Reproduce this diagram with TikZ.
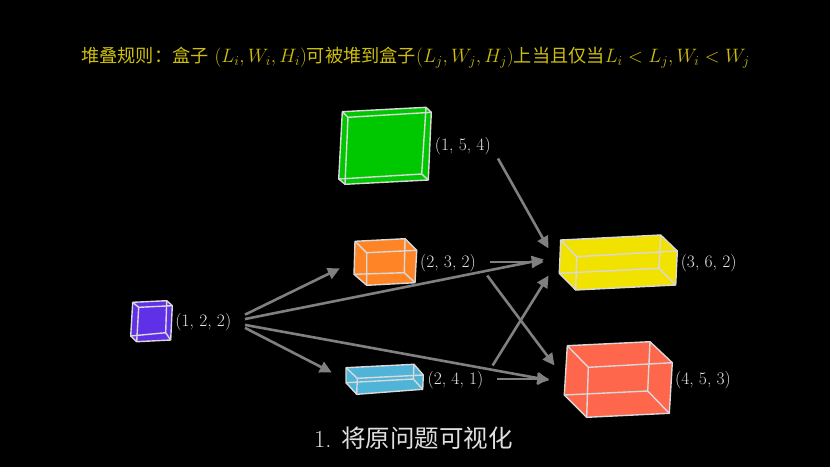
\RequirePackage{fix-cm}
\documentclass[tikz,border=0pt]{standalone}
\usepackage{fontspec}
\newfontfamily\cjk{Noto Sans CJK SC}
\usetikzlibrary{arrows.meta}

\definecolor{ruleyellow}{HTML}{CDBE0E}
\definecolor{boxgreen}{HTML}{00C800}
\definecolor{boxpurple}{HTML}{6030E8}
\definecolor{boxorange}{HTML}{FF8426}
\definecolor{boxcyan}{HTML}{4FB4D8}
\definecolor{boxyellow}{HTML}{F2E200}
\definecolor{boxred}{HTML}{FF674D}

\tikzset{
  lab/.style={text=white!90!black,inner sep=0pt,minimum width=83pt,minimum height=26.6pt,
    text height=14pt,text depth=3pt,font=\fontsize{17.5}{20}\selectfont},
  port/.style={inner sep=0pt,minimum height=26.6pt},
  edge/.style={draw=gray,line width=2.6pt,-{Triangle[length=12pt,width=11.5pt]}},
  wire/.style={draw=white!85!black,line width=1.4pt,line join=round}
}

% colour, then back face (tl tr br bl), then front face (tl tr br bl)
\newcommand{\cuboid}[9]{
  \fill[#1] #2 -- #3 -- #7 -- #8 -- #9 -- #5 -- cycle;
  \draw[wire] #2 -- #3 -- #4 -- #5 -- cycle;
  \draw[wire] #6 -- #7 -- #8 -- #9 -- cycle;
  \draw[wire] #2 -- #6 #3 -- #7 #4 -- #8 #5 -- #9;
}

\begin{document}
\begin{tikzpicture}[x=1pt,y=-1pt]
  \fill[black] (0,0) rectangle (830,467);
  \useasboundingbox (0,0) rectangle (830,467);

  \node[text=ruleyellow,inner sep=0pt,font=\fontsize{19.4}{22}\selectfont] at (415.5,58) (rule)
    {{\fontsize{18.2}{22}\selectfont\cjk 堆叠规则：盒子} $(L_i,W_i,H_i)${\fontsize{18.2}{22}\selectfont\cjk 可被堆到盒子}$(L_j,W_j,H_j)${\fontsize{18.2}{22}\selectfont\cjk 上当且仅当}$L_i<L_j,W_i<W_j$};

  % boxes
  \cuboid{boxgreen}{(342.3,111.7)}{(426,107.3)}{(421.7,174)}{(338.7,179)}{(348,117.3)}{(431.3,112.3)}{(428.3,180)}{(345,184.3)}
  \cuboid{boxpurple}{(132.7,302.3)}{(166.7,300.7)}{(165.7,332.7)}{(130.7,336)}{(138.7,307.3)}{(172.3,305.7)}{(170.7,340)}{(136.7,341.7)}
  \cuboid{boxorange}{(355,241.3)}{(405,238.7)}{(404.3,272.7)}{(354,274.3)}{(366.7,252.7)}{(416.7,250.3)}{(415,282.7)}{(366.7,285.3)}
  \cuboid{boxcyan}{(346,367.7)}{(414,364.3)}{(413.3,379)}{(346,382.7)}{(357.3,378.3)}{(423.3,375)}{(422.7,389.3)}{(356.7,394.3)}
  \cuboid{boxyellow}{(560.7,240)}{(660.7,235)}{(659,268.3)}{(559.3,273.3)}{(576.7,256.7)}{(677.3,251)}{(675.7,285)}{(575.7,290)}
  \cuboid{boxred}{(567.3,345.7)}{(650,341.7)}{(647.7,391)}{(564.3,395)}{(588.3,367.3)}{(672.3,362.7)}{(669.3,413.3)}{(586.7,417.3)}

  % invisible nodes the arrows run to
  \node[port,minimum width=90pt] at (385,262) (orange) {};
  \node[port,minimum width=106pt] at (385,380) (cyan) {};
  \node[port,minimum width=148pt] at (618,262) (yellow) {};
  \node[port,minimum width=137pt] at (618,379) (red) {};

  \node[lab] at (462.8,145) (l154) {(1, 5, 4)};
  \node[lab] at (203.3,320.5) (l122) {(1, 2, 2)};
  \node[lab] at (448,262) (l232) {(2, 3, 2)};
  \node[lab] at (455.5,379) (l241) {(2, 4, 1)};
  \node[lab] at (708.7,262) (l362) {(3, 6, 2)};
  \node[lab] at (703,379) (l453) {(4, 5, 3)};

  \node[text=white!88!black,inner sep=0pt,font=\fontsize{24.5}{28}\selectfont] at (413.5,438) (title) {1. {\cjk 将原问题可视化}};

  % draw edges
  \draw[edge] (l122.8) -- (orange.188);
  \draw[edge] (l122.2) -- (yellow.178);
  \draw[edge] (l122.-6) -- (red.181);
  \draw[edge] (l122.-10.6) -- (cyan.172);
  \draw[edge] (l154.-21) -- (yellow.169);
  \draw[edge] (l232.east) -- (yellow.180);
  \draw[edge] (l232.-19.4) -- (red.168);
  \draw[edge] (l241.20.2) -- (yellow.191);
  \draw[edge] (l241.east) -- (red.180);
\end{tikzpicture}
\end{document}
